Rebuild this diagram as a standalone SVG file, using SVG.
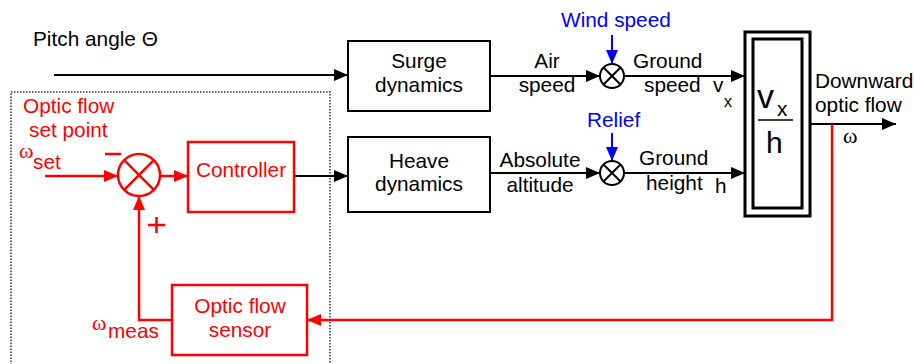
<svg xmlns="http://www.w3.org/2000/svg" width="914" height="364" viewBox="0 0 914 364">
<style>
text{font-family:"Liberation Sans",Arial,sans-serif;font-size:20.8px;fill:#000}
.r{fill:#f00}
.b{fill:#00f}
.m{text-anchor:middle}
.w{font-family:"Liberation Serif","Times New Roman",serif;font-size:22px}
.box{fill:#fff;stroke:#000;stroke-width:2}
.rbox{fill:#fff;stroke:#f00;stroke-width:2.5}
.ln{fill:none;stroke:#000;stroke-width:2}
.rln{fill:none;stroke:#f00;stroke-width:2.5}
.bln{fill:none;stroke:#00f;stroke-width:2}
</style>
<defs>
<marker id="ak" markerUnits="userSpaceOnUse" viewBox="0 0 14 12" refX="14" refY="6" markerWidth="14" markerHeight="12" orient="auto"><path d="M0,0L14,6L0,12z" fill="#000"/></marker>
<marker id="ar" markerUnits="userSpaceOnUse" viewBox="0 0 14 12" refX="14" refY="6" markerWidth="14" markerHeight="12" orient="auto"><path d="M0,0L14,6L0,12z" fill="#f00"/></marker>
<marker id="ab" markerUnits="userSpaceOnUse" viewBox="0 0 14 12" refX="14" refY="6" markerWidth="14" markerHeight="12" orient="auto"><path d="M0,0L14,6L0,12z" fill="#00f"/></marker>
</defs>
<rect width="914" height="364" fill="#fff"/>
<rect x="11" y="92" width="319" height="290" fill="none" stroke="#333" stroke-width="1.5" stroke-dasharray="1.5 1.5"/>
<text x="33" y="46">Pitch angle Θ</text>
<g id="connectors">
<path class="ln" d="M54,75H348" marker-end="url(#ak)"/>
<path class="ln" d="M294,176H348" marker-end="url(#ak)"/>
<path class="ln" d="M490,76H600" marker-end="url(#ak)"/>
<path class="ln" d="M490,173H600" marker-end="url(#ak)"/>
<path class="ln" d="M624,76H745" marker-end="url(#ak)"/>
<path class="ln" d="M624,173H745" marker-end="url(#ak)"/>
<path class="ln" d="M810,124H896" marker-end="url(#ak)"/>
<path class="bln" d="M612,35V64" marker-end="url(#ab)"/>
<path class="bln" d="M612,133V161" marker-end="url(#ab)"/>
<path class="rln" d="M832,124V320H307" marker-end="url(#ar)"/>
<path class="rln" d="M172,320H139V196" marker-end="url(#ar)"/>
<path class="rln" d="M45,176H118" marker-end="url(#ar)"/>
<path class="rln" d="M160,176H188" marker-end="url(#ar)"/>
</g>
<g id="surge"><rect class="box" x="348" y="41" width="142" height="70"/><text class="m" x="419" y="68">Surge</text><text class="m" x="419" y="92">dynamics</text></g>
<g id="heave"><rect class="box" x="348" y="137" width="142" height="75"/><text class="m" x="419" y="168">Heave</text><text class="m" x="419" y="191">dynamics</text></g>
<g id="sum-wind"><circle cx="612" cy="76" r="12" fill="#fff" stroke="#000" stroke-width="2"/><path class="ln" d="M603.5,67.5L620.5,84.5M620.5,67.5L603.5,84.5"/></g>
<g id="sum-relief"><circle cx="612" cy="173" r="12" fill="#fff" stroke="#000" stroke-width="2"/><path class="ln" d="M603.5,164.5L620.5,181.5M620.5,164.5L603.5,181.5"/></g>
<g id="ratio"><rect x="745" y="32" width="65" height="184" fill="#fff" stroke="#000" stroke-width="3"/><rect x="753" y="39" width="49" height="169" fill="none" stroke="#000" stroke-width="3"/>
<text x="757" y="108" style="font-size:34px">v</text><text x="777" y="116">x</text>
<path d="M758,120H793" stroke="#000" stroke-width="1.5"/>
<text x="766" y="153" style="font-size:30px">h</text></g>
<g id="controller"><rect class="rbox" x="188" y="142" width="106" height="70"/><text class="m r" x="241" y="177">Controller</text></g>
<g id="sensor"><rect class="rbox" x="172" y="285" width="135" height="70"/><text class="m r" x="240" y="313">Optic flow</text><text class="m r" x="240" y="337">sensor</text></g>
<g id="sum-error"><circle cx="139" cy="175" r="21" fill="#fff" stroke="#f00" stroke-width="2.5"/><path class="rln" d="M124.2,160.2L153.8,189.8M153.8,160.2L124.2,189.8"/>
<path class="rln" d="M105,154H121M148,225H165M156.5,217V233"/></g>
<g id="labels">
<text class="r" x="23" y="113">Optic flow</text>
<text class="r" x="29" y="137">set point</text>
<text class="r w" x="19" y="158">ω</text><text class="r" x="33" y="169">set</text>
<text class="r w" x="92" y="330">ω</text><text class="r" x="108" y="338">meas</text>
<text class="b" x="561" y="27">Wind speed</text>
<text class="b" x="587" y="127">Relief</text>
<text class="m" x="547" y="68">Air</text><text class="m" x="547" y="92">speed</text>
<text class="m" x="540" y="167">Absolute</text><text class="m" x="540" y="192">altitude</text>
<text x="633" y="68">Ground</text><text x="644" y="92">speed</text>
<text x="713" y="92">v</text><text x="724" y="107" style="font-size:16px">x</text>
<text x="639" y="165">Ground</text><text x="646" y="190">height</text><text x="715" y="193">h</text>
<text x="815" y="88">Downward</text><text x="815" y="112">optic flow</text>
<text class="w" x="843" y="143">ω</text>
</g>
</svg>
